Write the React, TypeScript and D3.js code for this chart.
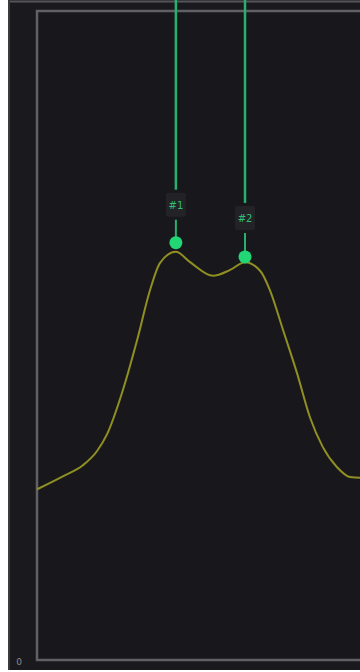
import React from "react";
import * as d3 from "d3";

const xs = [0, 8, 14.2, 18.6, 21.7, 26.6, 31, 35, 38.1, 43, 47.4, 54.5, 59.8, 64.4, 69.2, 72.1, 76.2, 80.5, 84.5, 88.5, 92.9, 96.9, 100, 106];
const values = [26.3, 28.3, 30.0, 32.2, 34.8, 41.6, 49.3, 57.0, 61.2, 62.9, 61.3, 59.2, 60.1, 61.3, 59.9, 57.0, 50.8, 44.2, 37.4, 32.8, 29.7, 28.2, 28.1, 28.3];
const peakLabels = ["#1", "#2"];
const peakX = [43, 64.4];
const peakY = [64.3, 62.1];
const yTickLabels = ["0"];

export default function App() {
  const W = 360, H = 672;
  const x = d3.scaleLinear().domain([0, 100]).range([37, 360]);
  const y = d3.scaleLinear().domain([0, 100]).range([660, 11]);
  const pts: [number, number][] = xs.map((v, i) => [v, values[i]]);
  const line = d3
    .line<[number, number]>()
    .x((d) => x(d[0]))
    .y((d) => y(d[1]))
    .curve(d3.curveMonotoneX);
  const labelOffsets = [38, 39];
  return (
    <div style={{ position: "fixed", left: 0, top: 0, width: W, height: H, background: "#fff" }}>
      <svg width={W} height={H} style={{ display: "block" }}>
        <rect x={8} y={0} width={W - 8} height={670} fill="#1a1a1e" />
        <line x1={8} x2={W} y1={1.5} y2={1.5} stroke="#55555a" strokeWidth={2} />
        <line x1={9} x2={9} y1={0} y2={670} stroke="#3a3a3e" strokeWidth={2} />
        <rect x={x(0)} y={y(100)} width={400} height={y(0) - y(100)} fill="#18181c" stroke="#606066" strokeWidth={2.5} />
        <path d={line(pts) || ""} fill="none" stroke="#8f8f22" strokeWidth={2} />
        {peakLabels.map((lab, i) => {
          const cx = x(peakX[i]);
          const cy = y(peakY[i]);
          const by = cy - labelOffsets[i] - 12;
          return (
            <g key={lab}>
              <line x1={cx} x2={cx} y1={0} y2={by - 3} stroke="#27b06e" strokeWidth={2.5} />
              <line x1={cx} x2={cx} y1={by + 27} y2={cy} stroke="#27b06e" strokeWidth={2} />
              <rect x={cx - 10} y={by} width={20} height={24} rx={2} fill="#232327" />
              <text x={cx} y={by + 16} textAnchor="middle" fontSize={10} fill="#2fbf72" fontFamily="DejaVu Sans, sans-serif">
                {lab}
              </text>
              <circle cx={cx} cy={cy} r={6.5} fill="#22d676" />
            </g>
          );
        })}
        {yTickLabels.map((t) => (
          <text key={t} x={19} y={665} textAnchor="middle" fontSize={9} fill="#8a8a90" fontFamily="DejaVu Sans, sans-serif">
            {t}
          </text>
        ))}
      </svg>
    </div>
  );
}
